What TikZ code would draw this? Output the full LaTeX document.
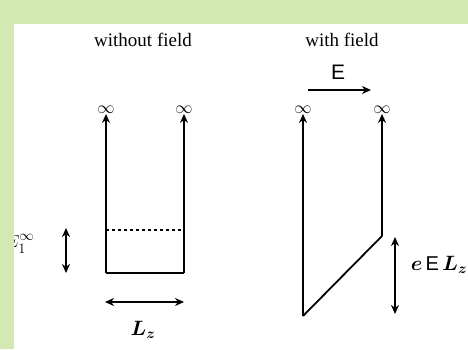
\documentclass[tikz,border=0pt]{standalone}
\usepackage{amsmath,amssymb}
\usepackage{fontspec}
\setmainfont{Liberation Serif}
\newfontfamily\sansE{Liberation Sans}
\usepackage{xcolor}
\usetikzlibrary{arrows.meta, positioning}
\definecolor{bandgreen}{RGB}{211,233,178}

\begin{document}
\begin{tikzpicture}[x=1pt, y=1pt,
    wall/.style={line width=1.8pt, -{Stealth[length=9pt,width=8pt]}},
    span/.style={line width=1.8pt, {Stealth[length=9pt,width=8pt]}-{Stealth[length=9pt,width=8pt]}},
    inf/.style={font=\LARGE, inner sep=0pt}]
  \useasboundingbox (0,0) rectangle (468,349);
  % titles
  \node (t1) at (143,309) {\fontsize{19}{21}\selectfont without field};
  \node (t2) at (342,309) {\fontsize{19}{21}\selectfont with field};
  % well without field
  \coordinate (a0) at (106,76);
  \coordinate (a1) at (184,76);
  \node[inf] (ia) at (106,239) {$\infty$};
  \node[inf] (ib) at (184,239) {$\infty$};
  \draw[wall] (a0) -- (ia.south);
  \draw[wall] (a1) -- (ib.south);
  \draw[line width=1.8pt] (a0) -- (a1);
  \draw[dashed, line width=1.2pt] (106,119) -- (184,119);
  \coordinate (d0) at (66,76);
  \coordinate (d1) at (66,121);
  \draw[span] (d0) -- (d1);
  \node (lev) at (20,105) {\fontsize{19}{21}\selectfont $E_1^\infty$};
  \coordinate (w0) at (105,47);
  \coordinate (w1) at (184,47);
  \draw[span] (w0) -- (w1);
  \node (lz) at (143,19) {\fontsize{20}{22}\selectfont $\boldsymbol{L_z}$};
  % well with field
  \node[inf] (ic) at (303,239) {$\infty$};
  \node[inf] (id) at (382,239) {$\infty$};
  \coordinate (b0) at (303,33);
  \coordinate (b1) at (382,113);
  \draw[wall] (b0) -- (ic.south);
  \draw[wall] (b1) -- (id.south);
  \draw[line width=1.8pt] (b0) -- (b1);
  \coordinate (e0) at (308,259);
  \coordinate (e1) at (371,259);
  \draw[line width=2.4pt, -{Stealth[length=9pt,width=8pt]}] (e0) -- (e1);
  \node (ef) at (338,277) {\fontsize{21}{23}\selectfont\sansE E};
  \coordinate (h0) at (395,112);
  \coordinate (h1) at (395,35);
  \draw[span] (h0) -- (h1);
  \node (eel) at (439,84) {\fontsize{20}{22}\selectfont $\boldsymbol{e}$\,{\sansE E}\,$\boldsymbol{L_z}$};
  % green band
  \fill[bandgreen] (0,325) rectangle (468,349);
  \fill[bandgreen] (0,0) rectangle (14,349);
\end{tikzpicture}
\end{document}
